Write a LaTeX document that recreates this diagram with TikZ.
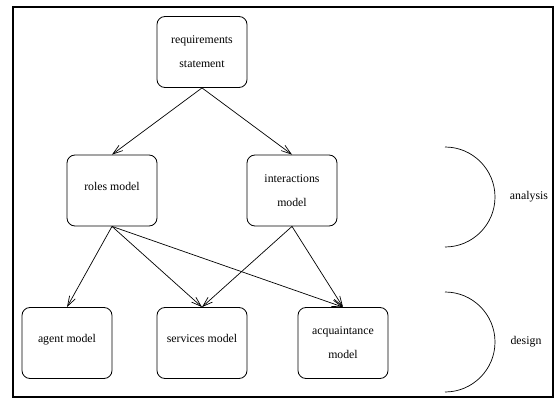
\documentclass[tikz,border=0pt]{standalone}
\usepackage{fontspec}
\setmainfont{Liberation Serif}
\usetikzlibrary{arrows.meta}
\begin{document}
\begin{tikzpicture}[x=1pt,y=-1pt,
  box/.style={draw, line width=0.8pt, rounded corners=8pt, minimum width=90pt, minimum height=71pt, inner sep=0pt, align=center, font=\fontsize{11.8}{24}\selectfont},
  oneline/.style={text depth=9pt},
  arr/.style={line width=0.7pt, -{Straight Barb[length=10pt,width=6.5pt,line width=0.7pt]}},
  phase/.style={font=\fontsize{11.8}{14}\selectfont}]
\useasboundingbox (0,0) rectangle (558,404);
\draw[line width=2pt] (13,7) rectangle (553,397);
\node[box] (req) at (202,52) {requirements\\statement};
\node[box,oneline] (roles) at (112,190.5) {roles model};
\node[box] (inter) at (292,190.5) {interactions\\model};
\node[box,oneline] (agent) at (67,343) {agent model};
\node[box,oneline] (serv) at (202,343) {services model};
\node[box] (acq) at (343,343) {acquaintance\\model};
\draw[arr] (req.south) -- (roles.north);
\draw[arr] (req.south) -- (inter.north);
\draw[arr] (roles.south) -- (agent.north);
\draw[arr] (roles.south) -- (serv.north);
\draw[arr] (roles.south) -- (acq.north);
\draw[arr] (inter.south) -- (serv.north);
\draw[arr] (inter.south) -- (acq.north);
\draw[line width=0.7pt] (445,147) arc[start angle=-90, end angle=90, radius=50];
\draw[line width=0.7pt] (445,292) arc[start angle=-90, end angle=90, radius=50];
\node[phase] (analysis) at (529,197) {analysis};
\node[phase] (design) at (526,342) {design};
\end{tikzpicture}
\end{document}
